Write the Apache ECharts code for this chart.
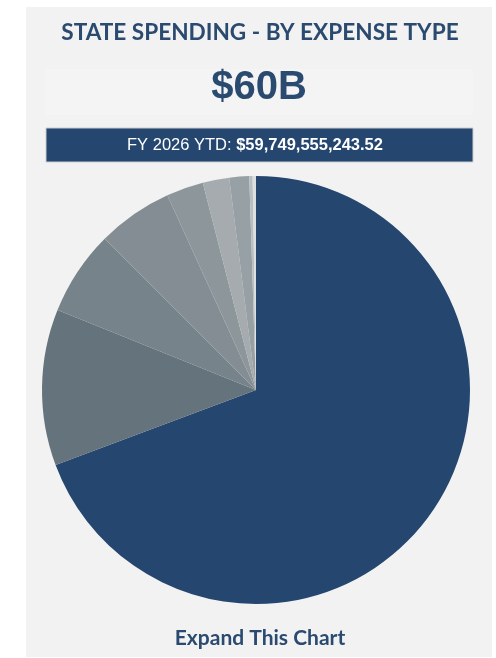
<!DOCTYPE html>
<html>
<head>
<meta charset="utf-8">
<script src="https://cdn.jsdelivr.net/npm/echarts@6/dist/echarts.min.js"></script>
<style>
html,body{margin:0;padding:0;background:#ffffff;}
#chart{width:496px;height:658px;}
</style>
</head>
<body>
<div id="chart"></div>
<script>
const titleText = "STATE SPENDING - BY EXPENSE TYPE";
const headline = "$60B";
const ytdLabel = "FY 2026 YTD: ";
const ytdValue = "$59,749,555,243.52";
const footerText = "Expand This Chart";

const categories = ["Type 1","Type 2","Type 3","Type 4","Type 5","Type 6","Type 7","Type 8","Type 9"];
const shares = [69.3, 11.8, 6.4, 5.7, 2.8, 2.0, 1.5, 0.25, 0.25];
const sliceColors = ["#24466f","#65737c","#76838a","#858d94","#8d979b","#a5abae","#97a0a4","#b9bec1","#dcdfe0"];

const chart = echarts.init(document.getElementById('chart'), null, {renderer:'canvas'});
const navy = "#2b4a70";

chart.setOption({
  backgroundColor: '#ffffff',
  animation: false,
  graphic: [
    {type:'rect', z:-10, shape:{x:26,y:7,width:466,height:650}, style:{fill:'#f2f2f2'}},
    {type:'rect', z:-9, shape:{x:45,y:69,width:428,height:46}, style:{fill:'#f4f4f4'}},
    {type:'text', x:260, y:33, style:{text:titleText, font:'700 22.6px Lato', fill:navy, align:'center', verticalAlign:'middle'}},
    {type:'text', x:259, y:88, style:{text:headline, font:'700 40px "Liberation Sans", Arial', fill:navy, align:'center', verticalAlign:'middle'}},
    {type:'rect', z:-8, shape:{x:46,y:128,width:427,height:34}, style:{fill:'#24466f', stroke:'#c8ccd0', lineWidth:1}},
    {type:'text', x:255, y:145, style:{
      text:'{a|' + ytdLabel + '}{b|' + ytdValue + '}',
      align:'center', verticalAlign:'middle',
      rich:{
        a:{fill:'#ffffff', fontSize:16.5, fontWeight:400, fontFamily:'Liberation Sans'},
        b:{fill:'#ffffff', fontSize:16.5, fontWeight:700, fontFamily:'Liberation Sans'}
      }
    }},
    {type:'text', x:260, y:638, style:{text:footerText, font:'700 21px Lato', fill:navy, align:'center', verticalAlign:'middle'}}
  ],
  series: [{
    type:'pie',
    center:[256,390],
    radius:[0,214],
    startAngle:90,
    clockwise:true,
    label:{show:false},
    labelLine:{show:false},
    emphasis:{disabled:true},
    itemStyle:{borderWidth:0},
    data: categories.map((c,i)=>({name:c, value:shares[i], itemStyle:{color:sliceColors[i]}}))
  }]
});
</script>
</body>
</html>
